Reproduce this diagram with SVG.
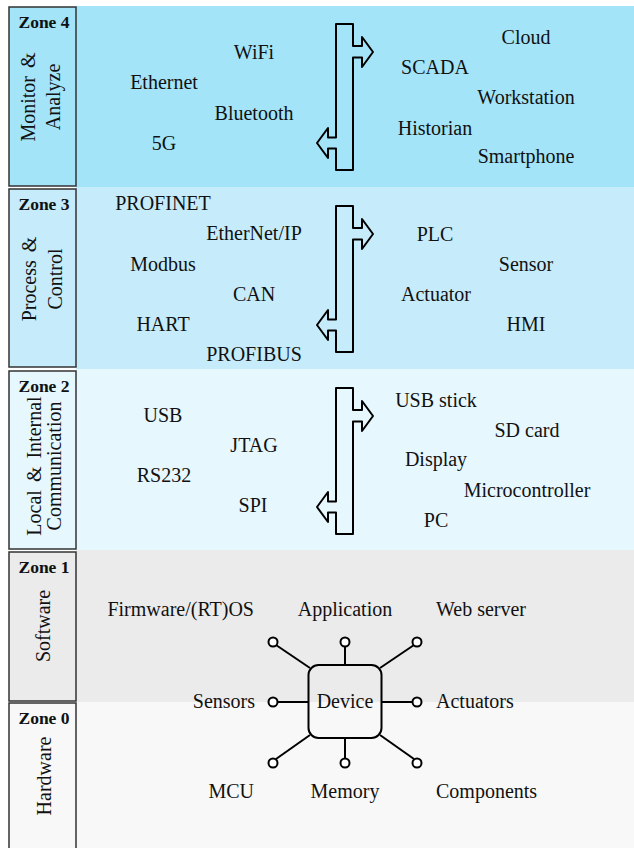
<svg xmlns="http://www.w3.org/2000/svg" width="634" height="848" viewBox="0 0 634 848" font-family="'Liberation Serif', serif">
<style>
text{font-family:"Liberation Serif",serif;font-size:20px;fill:#111;}
.m{text-anchor:middle;}
.e{text-anchor:end;}
.z{font-weight:bold;font-size:17.5px;text-anchor:middle;}
.v{text-anchor:middle;word-spacing:3px;}
.lbl{stroke:#333;stroke-width:1.5;}
.bus{fill:none;stroke:#000;stroke-width:2;stroke-linejoin:round;}
.pin{stroke:#000;stroke-width:2;fill:none;}
.pc{fill:#fff;stroke:#000;stroke-width:2;}
</style>
<defs>
<path id="busShape" d="M336,24 H353 V46 H362 V37 L373,52 L362,67 V57.5 H353 V170 H336 V148.5 H328 V158 L317,143 L328,128 V137.5 H336 Z"/>
</defs>
<rect x="0" y="0" width="634" height="848" fill="#fff"/>
<g id="backgrounds">
<rect x="76" y="6" width="558" height="181" fill="#a3e4f9"/>
<rect x="76" y="187" width="558" height="182" fill="#c6ecfb"/>
<rect x="76" y="369" width="558" height="181" fill="#e6f7fe"/>
<rect x="76" y="550" width="558" height="152" fill="#ebebeb"/>
<rect x="76" y="702" width="558" height="146" fill="#f8f8f8"/>
</g>
<g id="zone4">
<rect class="lbl" x="9" y="7" width="67" height="179" fill="#a3e4f9"/>
<text class="z" x="44" y="28">Zone 4</text>
<text class="v" transform="translate(35,97) rotate(-90)">Monitor &amp;</text>
<text class="v" transform="translate(60,97) rotate(-90)">Analyze</text>
</g>
<g id="zone3">
<rect class="lbl" x="9" y="189" width="67" height="178" fill="#c6ecfb"/>
<text class="z" x="44" y="210">Zone 3</text>
<text class="v" transform="translate(36,279) rotate(-90)">Process &amp;</text>
<text class="v" transform="translate(62,279) rotate(-90)">Control</text>
</g>
<g id="zone2">
<rect class="lbl" x="9" y="371" width="67" height="178" fill="#e6f7fe"/>
<text class="z" x="44" y="392">Zone 2</text>
<text class="v" transform="translate(41,466) rotate(-90)">Local &amp; Internal</text>
<text class="v" transform="translate(61,466) rotate(-90)">Communication</text>
</g>
<g id="zone1">
<rect class="lbl" x="9" y="552" width="67" height="149" fill="#ebebeb"/>
<text class="z" x="44" y="573">Zone 1</text>
<text class="v" transform="translate(50,626) rotate(-90)">Software</text>
</g>
<g id="zone0">
<rect class="lbl" x="9" y="703" width="67" height="150" fill="#f8f8f8"/>
<text class="z" x="44" y="724">Zone 0</text>
<text class="v" transform="translate(51,776) rotate(-90)">Hardware</text>
</g>
<g id="z4-items">
<text class="m" x="254" y="59">WiFi</text>
<text class="m" x="164" y="89">Ethernet</text>
<text class="m" x="254" y="120">Bluetooth</text>
<text class="m" x="164" y="150">5G</text>
<text class="m" x="526" y="44">Cloud</text>
<text class="m" x="435" y="74">SCADA</text>
<text class="m" x="526" y="104">Workstation</text>
<text class="m" x="435" y="135">Historian</text>
<text class="m" x="526" y="163">Smartphone</text>
</g>
<g id="z3-items">
<text class="m" x="163" y="210">PROFINET</text>
<text class="m" x="254" y="240">EtherNet/IP</text>
<text class="m" x="163" y="271">Modbus</text>
<text class="m" x="254" y="301">CAN</text>
<text class="m" x="163" y="331">HART</text>
<text class="m" x="254" y="361">PROFIBUS</text>
<text class="m" x="435" y="241">PLC</text>
<text class="m" x="526" y="271">Sensor</text>
<text class="m" x="436" y="301">Actuator</text>
<text class="m" x="526" y="331">HMI</text>
</g>
<g id="z2-items">
<text class="m" x="163" y="422">USB</text>
<text class="m" x="254" y="452">JTAG</text>
<text class="m" x="164" y="482">RS232</text>
<text class="m" x="253" y="512">SPI</text>
<text class="m" x="436" y="407">USB stick</text>
<text class="m" x="527" y="437">SD card</text>
<text class="m" x="436" y="466">Display</text>
<text class="m" x="527" y="497">Microcontroller</text>
<text class="m" x="436" y="527">PC</text>
</g>
<g id="z1-items">
<text class="e" x="254" y="616">Firmware/(RT)OS</text>
<text class="m" x="345" y="616">Application</text>
<text x="436" y="616">Web server</text>
<text class="e" x="255" y="708">Sensors</text>
<text x="436" y="708">Actuators</text>
<text class="e" x="254" y="798">MCU</text>
<text class="m" x="345" y="798">Memory</text>
<text x="436" y="798">Components</text>
</g>
<g id="connectors">
<use href="#busShape" class="bus"/>
<use href="#busShape" class="bus" transform="translate(0,182)"/>
<use href="#busShape" class="bus" transform="translate(0,364)"/>
<line class="pin" x1="345" y1="665" x2="345" y2="646"/>
<line class="pin" x1="345" y1="738" x2="345" y2="758"/>
<line class="pin" x1="308" y1="702" x2="278" y2="702"/>
<line class="pin" x1="382" y1="702" x2="412" y2="702"/>
<line class="pin" x1="380" y1="668" x2="414" y2="645"/>
<line class="pin" x1="310" y1="668" x2="276" y2="645"/>
<line class="pin" x1="380" y1="735" x2="414" y2="759"/>
<line class="pin" x1="310" y1="735" x2="276" y2="759"/>
<circle class="pc" cx="345" cy="642" r="4.5"/>
<circle class="pc" cx="417" cy="642" r="4.5"/>
<circle class="pc" cx="273" cy="642" r="4.5"/>
<circle class="pc" cx="417" cy="702" r="4.5"/>
<circle class="pc" cx="273" cy="702" r="4.5"/>
<circle class="pc" cx="345" cy="763" r="4.5"/>
<circle class="pc" cx="417" cy="763" r="4.5"/>
<circle class="pc" cx="273" cy="763" r="4.5"/>
</g>
<g id="device">
<rect x="308.5" y="665" width="73" height="73" rx="10" fill="none" stroke="#000" stroke-width="2"/>
<text class="m" x="345" y="708">Device</text>
</g>
</svg>
